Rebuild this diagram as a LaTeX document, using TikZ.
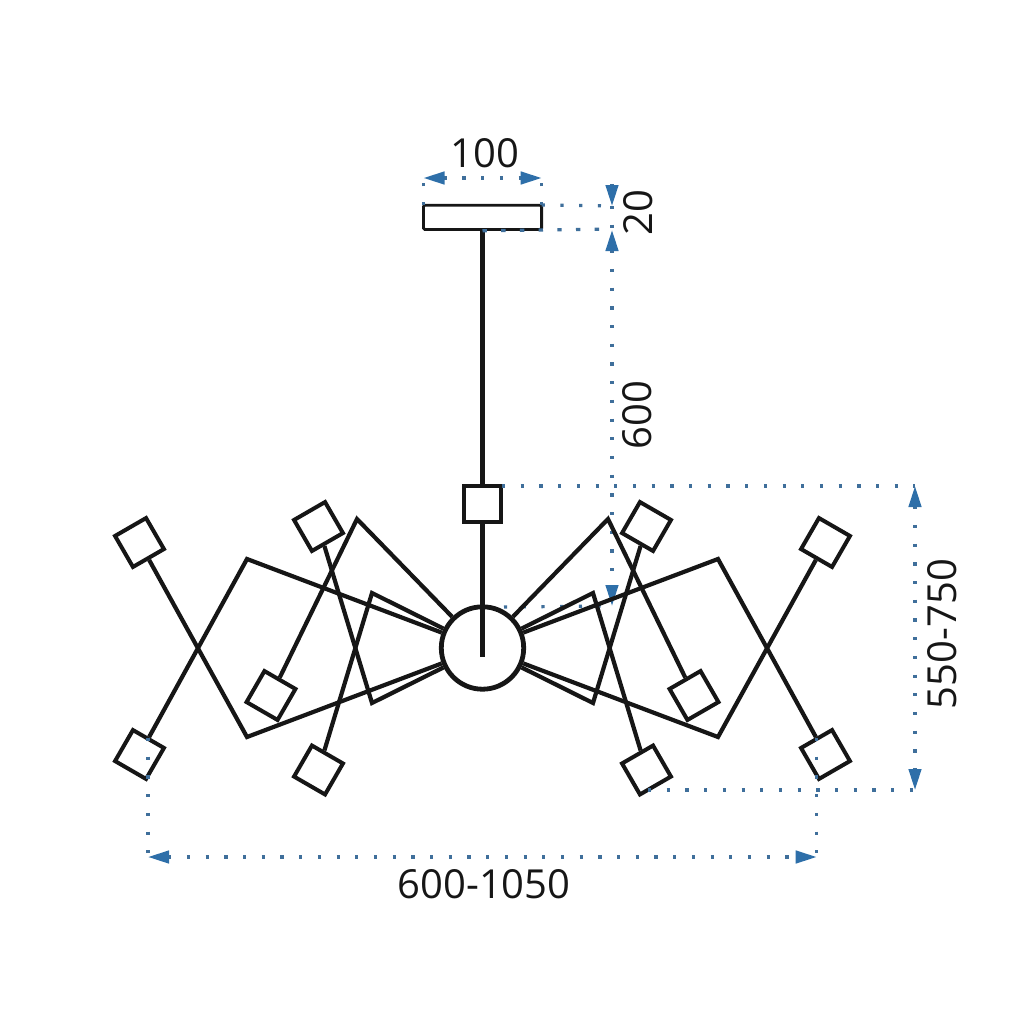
\documentclass[tikz,border=0pt]{standalone}
\usepackage{fontspec}
\setmainfont{Open Sans}
\usetikzlibrary{arrows.meta}
\definecolor{dimtip}{HTML}{2E6FA9}
\definecolor{dimdot}{HTML}{3F6F9B}
\definecolor{lampline}{HTML}{161616}
\tikzset{
  lamp/.style={draw=lampline, line width=2pt, rectangle, inner sep=0pt, minimum size=17.9pt},
  arm/.style={draw=lampline, line width=2.1pt, line join=miter},
  dimline/.style={draw=dimdot, line width=1.6pt, dash pattern=on 1.6pt off 7.75pt},
  dimhead/.style={-{Triangle[length=10.5pt,width=6.2pt,color=dimtip]}},
  dimboth/.style={{Triangle[length=10.5pt,width=6.2pt,color=dimtip]}-{Triangle[length=10.5pt,width=6.2pt,color=dimtip]}},
  dimtext/.style={text=lampline, font=\fontsize{20}{20}\selectfont, inner sep=0pt}
}

\begin{document}
\begin{tikzpicture}[x=0.5pt,y=-0.5pt]
\useasboundingbox (0,0) rectangle (1024,1024);

% dimensions behind the lamp
\coordinate (dimA) at (612,230);
\coordinate (dimB) at (612,606);
\coordinate (dimC) at (504,607);
\draw[dimline,dimboth] (dimA) -- (dimB);
\draw[dimline] (dimC) -- (dimB);

% canopy, rod and hub
\node[draw=lampline, line width=1.4pt, rectangle, rounded corners=0.7pt, inner sep=0pt,
  minimum width=59.1pt, minimum height=12.1pt] (canopy) at (482.5,217.3) {};
\node[lamp, minimum size=18.2pt] (post) at (482.5,504) {};
\node[draw=lampline, line width=2.4pt, circle, inner sep=0pt, minimum size=41.2pt] (hub) at (482.5,648) {};
\coordinate (rodend) at (482.5,657);
\draw[arm] (canopy) -- (post);
\draw[arm] (post) -- (rodend);

% lamps
\foreach \lampname/\x/\y/\rot in {
  rt/825.5/542.5/-30, rb/825.5/754.5/30, mt/646.5/526.5/-30, mb/646.5/770/30, rc/694/695.5/30,
  lt/139.5/542.5/30, lb/139.5/754.5/-30, nt/318.5/526.5/30, nb/318.5/770/-30, lc/271/695.5/-30}
  \node[lamp, rotate=\rot] (\lampname) at (\x,\y) {};

% bends of the arms
\coordinate (brt) at (718,737);
\coordinate (brb) at (718,559);
\coordinate (bmt) at (593,703);
\coordinate (bmb) at (593,593);
\coordinate (brc) at (608,519);
\coordinate (blt) at (247,737);
\coordinate (blb) at (247,559);
\coordinate (bnt) at (372,703);
\coordinate (bnb) at (372,593);
\coordinate (blc) at (357,519);

\foreach \lampname/\bend in {rt/brt, rb/brb, mt/bmt, mb/bmb, rc/brc, lt/blt, lb/blb, nt/bnt, nb/bnb, lc/blc}
  \draw[arm] (\lampname) -- (\bend) -- (hub);

% dimension 100
\coordinate (wa) at (423.5,178);
\coordinate (wb) at (541.7,178);
\coordinate (wc) at (423.5,205);
\coordinate (wd) at (541.7,205);
\draw[dimline,dimboth] (wa) -- (wb);
\draw[dimline] (wc) -- (wa);
\draw[dimline] (wd) -- (wb);
\node[dimtext] (lblw) at (485,153) {100};

% dimension 20
\coordinate (ha) at (612,184);
\coordinate (hb) at (612,206);
\coordinate (hc) at (612,229);
\draw[dimline,dimhead] (ha) -- (hb);
\draw[dimline] (wd) -- (hb);
\draw[dimline, dash pattern=on 2.2pt off 7.15pt] (canopy.south) -- (hc);
\draw[dimline] (hb) -- (hc);
\node[dimtext, rotate=90] (lblh) at (638,213) {20};
\node[dimtext, rotate=90] (lblrod) at (637,415) {600};

% dimension 550-750
\coordinate (va) at (915,486);
\coordinate (vb) at (915,790);
\coordinate (vc) at (648,790);
\coordinate (vd) at (502,486);
\draw[dimline,dimboth] (va) -- (vb);
\draw[dimline] (vd) -- (va);
\draw[dimline] (vc) -- (vb);
\node[dimtext, rotate=90] (lblv) at (942,634) {550-750};

% dimension 600-1050
\coordinate (da) at (148,857);
\coordinate (db) at (816.7,857);
\coordinate (dc) at (148,738);
\coordinate (dd) at (816.7,738);
\draw[dimline,dimboth] (da) -- (db);
\draw[dimline] (dc) -- (da);
\draw[dimline] (dd) -- (db);
\node[dimtext] (lbld) at (484,884) {600-1050};
\end{tikzpicture}
\end{document}
